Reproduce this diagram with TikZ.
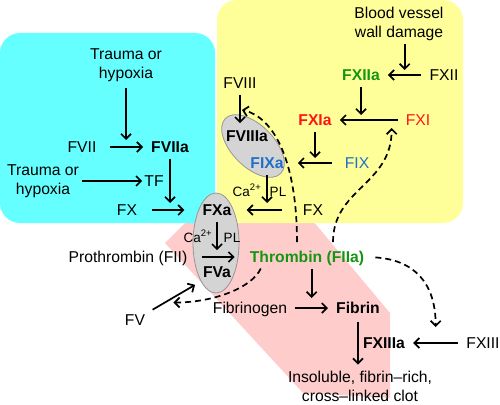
\documentclass[tikz,border=0pt]{standalone}
\usepackage{fontspec}
\setmainfont{Liberation Sans}
\usetikzlibrary{arrows.meta,shapes.geometric,calc}
\definecolor{boxcyan}{RGB}{102,255,255}
\definecolor{boxyellow}{RGB}{255,255,153}
\definecolor{boxpink}{RGB}{255,204,204}
\definecolor{fgreen}{RGB}{20,150,20}
\definecolor{fred}{RGB}{255,20,20}
\definecolor{fblue}{RGB}{30,112,200}
\definecolor{cplxfill}{RGB}{212,212,212}
\definecolor{cplxline}{RGB}{150,150,150}
\newcommand{\labelfont}{\fontsize{15.7}{19}\selectfont}
\tikzset{fac/.style={
  font=\labelfont,
  inner xsep=5pt,inner ysep=3pt,
  text height=11.2pt,text depth=0pt}}
\tikzset{facr/.style={fac,text=fred}}
\tikzset{facb/.style={fac,text=fblue}}
\tikzset{act/.style={fac,font=\labelfont\bfseries}}
\tikzset{actg/.style={act,text=fgreen}}
\tikzset{actr/.style={act,text=fred}}
\tikzset{actb/.style={act,text=fblue}}
\tikzset{cofac/.style={font=\fontsize{13.5}{16}\selectfont,inner sep=1pt,text height=10pt,text depth=0pt}}
\tikzset{multi/.style={font=\labelfont,align=center,inner sep=3pt}}
\tikzset{cplx/.style={ellipse,fill=cplxfill,draw=cplxline,line width=0.8pt,inner sep=0pt}}
\tikzset{>={Straight Barb[length=5pt,width=10pt]}}
\tikzset{arr/.style={->,line width=1.7pt,shorten >=3pt,shorten <=3pt}}
\tikzset{fb/.style={arr,dash pattern=on 6pt off 4pt,shorten <=6pt}}

\begin{document}
\begin{tikzpicture}[x={(1pt,0pt)},y={(0pt,-1pt)}]
  \useasboundingbox (0,0) rectangle (500,404);
  % compartments
  \fill[boxpink] (193,215) -- (165,243) -- (303,393) -- (390,398) -- (390,313) -- (308,215) -- cycle;
  \fill[boxcyan,rounded corners=20pt] (0,33) rectangle (215,223);
  \fill[boxyellow,rounded corners=20pt] (217,0) rectangle (463,223);
  % complexes
  \node[cplx,minimum width=78pt,minimum height=42pt,rotate=-45] (tenase) at (253,146) {};
  \node[cplx,minimum width=46pt,minimum height=100pt] (prothr) at (216,243) {};
  % factors
  \foreach \n/\p/\s/\l in {
      fvii/{(82,147)}/fac/FVII,
      fviia/{(170,147)}/act/FVIIa,
      tf/{(154,181)}/fac/TF,
      fx/{(127,210)}/fac/FX,
      fxa/{(217,210)}/act/FXa,
      fva/{(217,272)}/act/FVa,
      proth/{(128,257)}/fac/Prothrombin (FII),
      fv/{(135,320)}/fac/FV,
      thrombin/{(307,257)}/actg/Thrombin (FIIa),
      fibrinogen/{(250,308)}/fac/Fibrinogen,
      fibrin/{(358,308)}/act/Fibrin,
      fxiiia/{(384,343)}/act/FXIIIa,
      fxiii/{(483,343)}/fac/FXIII,
      fxiia/{(361,75)}/actg/FXIIa,
      fxii/{(444,75)}/fac/FXII,
      fxia/{(315,120)}/actr/FXIa,
      fxi/{(418,120)}/facr/FXI,
      fix/{(357,163)}/facb/FIX,
      fixa/{(267,163)}/actb/FIXa,
      fviiia/{(247,136)}/act/FVIIIa,
      fviii/{(240,83)}/fac/FVIII,
      fx2/{(313,210)}/fac/FX,
      ca1/{(198,237)}/cofac/Ca\textsuperscript{2+},
      pl1/{(232,237)}/cofac/PL,
      ca2/{(247,191)}/cofac/Ca\textsuperscript{2+},
      pl2/{(278,191)}/cofac/PL }
    \node[\s] (\n) at \p {\l};
  \node[multi] (trauma1) at (126,65) {Trauma or\\hypoxia};
  \node[multi] (trauma2) at (43,181) {Trauma or\\hypoxia};
  \node[multi] (blood) at (399,24) {Blood vessel\\wall damage};
  \node[multi,inner sep=1pt] (clot) at (360,386) {Insoluble, fibrin–rich,\\cross–linked clot};
  % extrinsic pathway
  \draw[arr,shorten >=7pt] (trauma1) -- (trauma1 |- fvii);
  \draw[arr,shorten <=8pt] (fvii) -- (fviia);
  \draw[arr,shorten <=0pt,shorten >=-3pt] (trauma2) -- (tf);
  \draw[arr,shorten >=7pt] (fviia) -- (fviia |- fx);
  \draw[arr,shorten <=10pt,shorten >=13pt] (fx) -- (fxa);
  % common pathway
  \draw[arr,shorten >=13pt] (fxa) -- (fva);
  \draw[arr,shorten <=9pt,shorten >=10pt] (proth) -- (thrombin);
  \draw[arr,shorten >=8pt] (fv) -- coordinate[pos=.45] (jv) (fva);
  \draw[arr] (fibrinogen) -- coordinate[pos=.5] (jf) (fibrin);
  \draw[arr,shorten >=10pt] (thrombin.south -| jf) -- (jf);
  \draw[arr,shorten <=5pt,shorten >=5pt] (fibrin) -- (fibrin |- clot.north);
  \draw[arr] (fxiii) -- coordinate[pos=.5] (j13) (fxiiia);
  % intrinsic pathway
  \draw[arr] (fxii) -- coordinate[pos=.5] (j12) (fxiia);
  \draw[arr,shorten <=0pt,shorten >=5pt] (blood.south -| j12) -- (j12);
  \draw[arr,shorten >=5pt] (fxiia) -- (fxiia |- fxi);
  \draw[arr] (fxi) -- coordinate[pos=.14] (j11) (fxia);
  \draw[arr,shorten >=5pt] (fxia) -- (fxia |- fix);
  \draw[arr,shorten <=8pt,shorten >=9pt] (fix) -- (fixa);
  \draw[arr,shorten >=7pt] (fixa) -- (fixa |- fx2);
  \draw[arr,shorten <=16pt,shorten >=10pt] (fx2) -- (fxa);
  \draw[arr,shorten >=4pt] (fviii) -- coordinate[pos=.5] (j8) (fviii |- fviiia.north);
  % thrombin feedback
  \draw[fb,shorten >=2pt] ([xshift=-10pt]thrombin.north) .. controls +(0,-85) and +(35,8) .. (j8);
  \draw[fb,shorten >=8pt] ([xshift=26pt]thrombin.north) .. controls +(0,-60) and +(0,65) .. (j11);
  \draw[fb,shorten <=3pt,shorten >=0pt] ([xshift=-45pt]thrombin.south) .. controls +(-10,22) and +(40,0) .. ([yshift=-5pt]jv);
  \draw[fb,shorten >=16pt] (thrombin.east) .. controls +(45,3) and +(0,-60) .. (j13);
\end{tikzpicture}
\end{document}
